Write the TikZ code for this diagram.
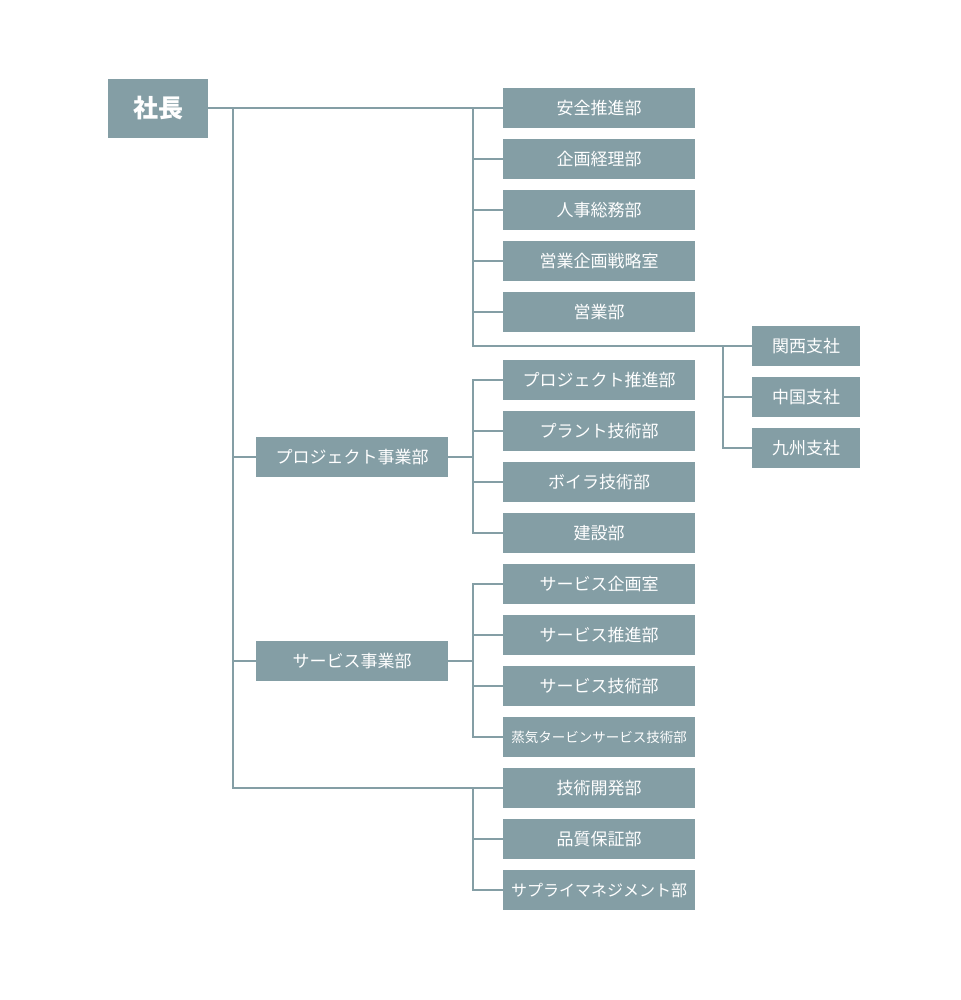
\documentclass[tikz,border=0pt]{standalone}
\usepackage{fontspec}
\setmainfont{Noto Sans CJK JP}
\usepackage{xcolor}
\usetikzlibrary{positioning}
\definecolor{orgfill}{HTML}{849EA5}
\definecolor{orgline}{HTML}{849EA5}
\tikzset{
  box/.style={rectangle, fill=orgfill, text=white, minimum height=40pt, minimum width=192pt, inner sep=0pt, outer sep=0pt, align=center, font=\fontsize{17}{20}\selectfont},
  branch/.style={box, minimum width=108pt},
  link/.style={draw=orgline, line width=2.8pt},
}

\begin{document}
\begin{tikzpicture}[x=1pt, y=-1pt, node distance=11pt]
    \useasboundingbox (0,0) rectangle (960,1000);
    \node[box, minimum width=100pt, minimum height=59pt, font=\fontsize{25}{30}\selectfont\bfseries] (president) at (158,108.5) {社長};
    % head office departments
    \node[box] (safety) at (599,108) {安全推進部};
    \node[box, below=of safety] (planning) {企画経理部};
    \node[box, below=of planning] (hr) {人事総務部};
    \node[box, below=of hr] (salesplan) {営業企画戦略室};
    \node[box, below=of salesplan] (sales) {営業部};
    % branch offices
    \node[branch] (kansai) at (806,346) {関西支社};
    \node[branch, below=of kansai] (chugoku) {中国支社};
    \node[branch, below=of chugoku] (kyushu) {九州支社};
    % project division
    \node[box] (pjdiv) at (352,457) {プロジェクト事業部};
    \node[box] (pjpromo) at (599,380) {プロジェクト推進部};
    \node[box, below=of pjpromo] (plant) {プラント技術部};
    \node[box, below=of plant] (boiler) {ボイラ技術部};
    \node[box, below=of boiler] (construct) {建設部};
    % service division
    \node[box] (svdiv) at (352,661) {サービス事業部};
    \node[box, below=of construct] (svplan) {サービス企画室};
    \node[box, below=of svplan] (svpromo) {サービス推進部};
    \node[box, below=of svpromo] (svtech) {サービス技術部};
    \node[box, below=of svtech, font=\fontsize{13.5}{16}\selectfont] (turbine) {蒸気タービンサービス技術部};
    % other departments
    \node[box, below=of turbine] (rnd) {技術開発部};
    \node[box, below=of rnd] (qa) {品質保証部};
    \node[box, below=of qa, font=\fontsize{16}{20}\selectfont] (supply) {サプライマネジメント部};

    \coordinate (trunk) at (233,108);
    \coordinate (hq) at (473,108);
    \coordinate (brbus) at (kansai.west -| 723,0);
    \coordinate (pjbus) at (pjdiv.east -| hq);
    \coordinate (svbus) at (svdiv.east -| hq);
    \coordinate (rndbus) at (rnd.west -| hq);

    \draw[link] (president.east |- safety.west) -- (safety.west);
    \draw[link] (trunk) |- (pjdiv.west);
    \draw[link] (trunk) |- (svdiv.west);
    \draw[link] (trunk) |- (rnd.west);
    \draw[link] (hq) |- (planning.west);
    \draw[link] (hq) |- (hr.west);
    \draw[link] (hq) |- (salesplan.west);
    \draw[link] (hq) |- (sales.west);
    \draw[link] (hq) |- (kansai.west);
    \draw[link] (brbus) |- (chugoku.west);
    \draw[link] (brbus) |- (kyushu.west);
    \draw[link] (pjdiv.east) -- (pjbus);
    \draw[link] (pjbus) |- (pjpromo.west);
    \draw[link] (pjbus) |- (plant.west);
    \draw[link] (pjbus) |- (boiler.west);
    \draw[link] (pjbus) |- (construct.west);
    \draw[link] (svdiv.east) -- (svbus);
    \draw[link] (svbus) |- (svplan.west);
    \draw[link] (svbus) |- (svpromo.west);
    \draw[link] (svbus) |- (svtech.west);
    \draw[link] (svbus) |- (turbine.west);
    \draw[link] (rndbus) |- (qa.west);
    \draw[link] (rndbus) |- (supply.west);
  \end{tikzpicture}
\end{document}
